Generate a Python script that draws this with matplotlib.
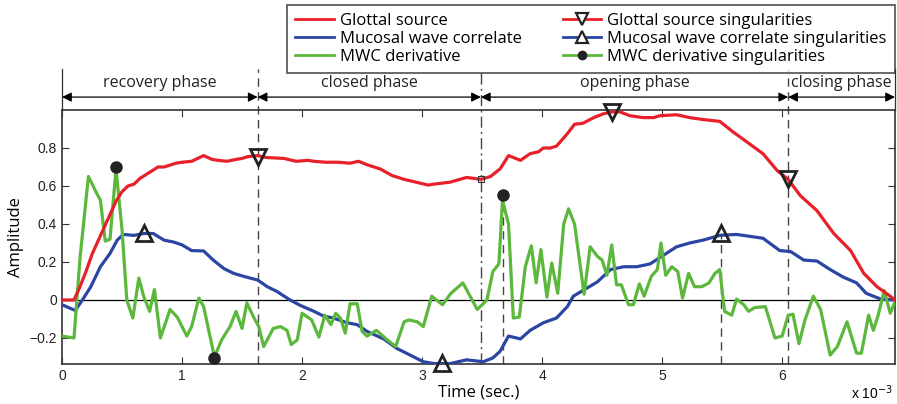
import numpy as np
import matplotlib
matplotlib.use('Agg')
import matplotlib.pyplot as plt
from matplotlib.lines import Line2D

plt.rcParams['font.family'] = ['Liberation Sans', 'DejaVu Sans']

# time axis in units of 1e-3 s
glottal_t = [0.0, 0.1, 0.15, 0.2, 0.25, 0.3, 0.35, 0.4, 0.45, 0.5, 0.55, 0.6, 0.65, 0.7,
             0.75, 0.8, 0.85, 0.9, 0.95, 1.0, 1.08, 1.13, 1.18, 1.25, 1.3, 1.375, 1.45,
             1.5, 1.55, 1.63, 1.7, 1.85, 1.95, 2.05, 2.1, 2.2, 2.3, 2.4, 2.47, 2.55, 2.65,
             2.75, 2.85, 2.95, 3.05, 3.1, 3.233, 3.37, 3.49, 3.57, 3.65, 3.72, 3.82, 3.9,
             3.97, 4.01, 4.07, 4.12, 4.21, 4.27, 4.34, 4.43, 4.51, 4.58, 4.65, 4.73, 4.84,
             4.93, 4.98, 5.12, 5.23, 5.34, 5.48, 5.59, 5.71, 5.84, 5.96, 6.05, 6.15, 6.29,
             6.43, 6.57, 6.68, 6.79, 6.9, 6.94]
glottal = [0.0, 0.0, 0.07, 0.15, 0.24, 0.31, 0.38, 0.45, 0.52, 0.57, 0.60, 0.61, 0.64, 0.66,
           0.68, 0.70, 0.70, 0.71, 0.72, 0.725, 0.73, 0.745, 0.76, 0.74, 0.735, 0.73, 0.74,
           0.745, 0.755, 0.76, 0.75, 0.745, 0.73, 0.735, 0.73, 0.725, 0.725, 0.72, 0.73, 0.71,
           0.69, 0.655, 0.635, 0.62, 0.605, 0.61, 0.62, 0.645, 0.635, 0.65, 0.69, 0.76, 0.735,
           0.77, 0.78, 0.80, 0.80, 0.81, 0.875, 0.925, 0.93, 0.96, 0.98, 0.99, 0.99, 0.97, 0.96,
           0.96, 0.97, 0.975, 0.96, 0.95, 0.94, 0.885, 0.83, 0.77, 0.68, 0.635, 0.55, 0.47,
           0.35, 0.26, 0.14, 0.07, 0.02, 0.0]

mucosal_t = [0.0, 0.11, 0.17, 0.24, 0.32, 0.4, 0.46, 0.51, 0.6, 0.68, 0.76, 0.85, 0.93, 1.0,
             1.08, 1.18, 1.26, 1.35, 1.43, 1.51, 1.63, 1.71, 1.79, 1.9, 1.99, 2.1, 2.18, 2.26,
             2.375, 2.46, 2.54, 2.68, 2.79, 2.9, 3.01, 3.1, 3.233, 3.37, 3.51, 3.59, 3.65,
             3.72, 3.82, 3.9, 4.01, 4.12, 4.21, 4.26, 4.34, 4.46, 4.57, 4.68, 4.79, 4.9, 5.01,
             5.12, 5.23, 5.34, 5.48, 5.62, 5.73, 5.84, 5.98, 6.07, 6.18, 6.29, 6.4, 6.51,
             6.62, 6.7, 6.82, 6.94]
mucosal = [-0.025, -0.055, 0.0, 0.07, 0.175, 0.245, 0.315, 0.345, 0.34, 0.35, 0.35, 0.315,
           0.305, 0.29, 0.26, 0.258, 0.21, 0.165, 0.14, 0.125, 0.105, 0.07, 0.045, 0.0,
           -0.03, -0.06, -0.085, -0.095, -0.12, -0.13, -0.165, -0.205, -0.255, -0.29,
           -0.325, -0.335, -0.335, -0.315, -0.325, -0.305, -0.27, -0.19, -0.205, -0.16,
           -0.12, -0.095, -0.035, 0.02, 0.05, 0.095, 0.16, 0.175, 0.175, 0.19, 0.235, 0.28,
           0.30, 0.315, 0.34, 0.345, 0.335, 0.325, 0.26, 0.255, 0.21, 0.205, 0.16, 0.12,
           0.09, 0.035, 0.005, 0.0]

mwc_t = [0.0, 0.1, 0.15, 0.22, 0.29, 0.32, 0.36, 0.4, 0.45, 0.5, 0.54, 0.59, 0.64, 0.68,
         0.73, 0.77, 0.82, 0.9, 0.96, 1.04, 1.08, 1.14, 1.18, 1.27, 1.33, 1.4, 1.45, 1.5,
         1.54, 1.6, 1.64, 1.68, 1.76, 1.82, 1.875, 1.91, 1.96, 2.0, 2.08, 2.14, 2.19, 2.24,
         2.28, 2.32, 2.36, 2.4, 2.46, 2.5, 2.54, 2.62, 2.71, 2.78, 2.85, 2.89, 2.96, 3.01,
         3.08, 3.17, 3.24, 3.34, 3.46, 3.54, 3.59, 3.64, 3.67, 3.72, 3.76, 3.81, 3.86, 3.91,
         3.95, 3.99, 4.04, 4.08, 4.13, 4.18, 4.22, 4.27, 4.35, 4.4, 4.46, 4.5, 4.54, 4.58,
         4.62, 4.66, 4.72, 4.76, 4.81, 4.85, 4.91, 4.96, 4.99, 5.03, 5.08, 5.13, 5.17, 5.22,
         5.27, 5.33, 5.39, 5.44, 5.48, 5.52, 5.58, 5.62, 5.68, 5.72, 5.77, 5.86, 5.94, 6.0,
         6.05, 6.09, 6.14, 6.19, 6.26, 6.32, 6.4, 6.46, 6.54, 6.62, 6.66, 6.72, 6.76, 6.8,
         6.85, 6.9, 6.94]
mwc = [-0.19, -0.2, 0.22, 0.65, 0.56, 0.525, 0.31, 0.32, 0.69, 0.37, 0.0, -0.095, 0.115,
       0.02, -0.06, 0.055, -0.2, -0.05, -0.09, -0.19, -0.14, 0.01, -0.035, -0.30, -0.21,
       -0.14, -0.06, -0.15, -0.015, -0.095, -0.14, -0.245, -0.15, -0.14, -0.16, -0.235,
       -0.21, -0.07, -0.105, -0.195, -0.08, -0.13, -0.07, -0.095, -0.175, -0.02, -0.02,
       -0.165, -0.19, -0.16, -0.21, -0.245, -0.115, -0.105, -0.115, -0.14, 0.02, -0.025,
       0.035, 0.09, -0.05, 0.0, 0.15, 0.19, 0.525, 0.40, -0.095, -0.09, 0.175, 0.285, 0.09,
       0.265, 0.015, 0.195, 0.035, 0.40, 0.48, 0.40, 0.03, 0.28, 0.23, 0.21, 0.13, 0.29,
       0.08, 0.08, -0.025, -0.025, 0.085, 0.02, 0.125, 0.16, 0.30, 0.13, 0.175, 0.15, 0.01,
       0.14, 0.07, 0.07, 0.09, 0.14, 0.16, -0.06, -0.08, 0.005, -0.025, -0.06, -0.04,
       -0.035, -0.20, -0.19, -0.08, -0.075, -0.23, -0.105, 0.02, -0.05, -0.29, -0.245,
       -0.115, -0.28, -0.28, -0.08, -0.16, -0.08, 0.05, -0.07, -0.01]

gs_sing_t = [1.63, 4.58, 6.05]
gs_sing = [0.755, 0.99, 0.635]
mwc_sing_t = [0.68, 3.17, 5.49]
mwc_sing = [0.355, -0.33, 0.355]
der_sing_t = [0.45, 1.27, 3.67]
der_sing = [0.70, -0.305, 0.55]

phase_names = ['recovery phase', 'closed phase', 'opening phase', 'closing phase']
phase_edges = [0.0, 1.63, 3.49, 6.05, 6.94]

red = '#e8202a'
blue = '#2b45a3'
green = '#5cb83d'

fig = plt.figure(figsize=(8.97, 4.04), dpi=100)
ax = fig.add_axes([62 / 897, 40 / 404, 833 / 897, 254 / 404])

ax.axhline(0, color='black', lw=0.9, zorder=1)

ax.plot(mucosal_t, mucosal, color=blue, lw=2.3, zorder=3)
ax.plot(mwc_t, mwc, color=green, lw=2.3, zorder=3)
ax.plot(glottal_t, glottal, color=red, lw=2.3, zorder=4)

# small square at closed/opening boundary
ax.plot([3.49], [0.635], marker='s', ms=4, mfc='none', mec='#333333', mew=0.8, zorder=6)

ax.plot(gs_sing_t, gs_sing, ls='none', marker='v', ms=12, mfc='none', mec='#222222',
        mew=2.0, zorder=6, clip_on=False)
ax.plot(mwc_sing_t, mwc_sing, ls='none', marker='^', ms=12, mfc='none', mec='#222222',
        mew=2.0, zorder=6, clip_on=False)
ax.plot(der_sing_t, der_sing, ls='none', marker='o', ms=8, color='#222222', zorder=6,
        clip_on=False)

top = 1.215
# phase boundary lines
vstyle = dict(color='#444444', lw=1.0, zorder=2, clip_on=False)
ax.plot([phase_edges[1]] * 2, [-0.337, top], ls=(0, (6, 4)), **vstyle)
ax.plot([phase_edges[2]] * 2, [-0.337, top], ls=(0, (8, 3, 1.5, 3)), **vstyle)
ax.plot([phase_edges[3]] * 2, [-0.337, top], ls=(0, (6, 4)), **vstyle)
ax.plot([phase_edges[0]] * 2, [1.0, top], color='#333333', lw=0.9, clip_on=False)
ax.plot([phase_edges[4]] * 2, [1.0, top], color='#333333', lw=0.9, clip_on=False)
# drop lines under derivative/mucosal singularities
ax.plot([der_sing_t[2]] * 2, [-0.337, der_sing[2]], ls=(0, (6, 4)), **vstyle)
ax.plot([mwc_sing_t[2]] * 2, [-0.337, mwc_sing[2]], ls=(0, (6, 4)), **vstyle)

for i, name in enumerate(phase_names):
    a, b = phase_edges[i], phase_edges[i + 1]
    ax.annotate('', xy=(a, 1.068), xytext=(b, 1.068), xycoords='data',
                arrowprops=dict(arrowstyle='<|-|>', color='black', lw=0.9,
                                mutation_scale=14, shrinkA=0, shrinkB=0),
                annotation_clip=False)
    ax.text((a + b) / 2, 1.14, name, ha='center', va='center', fontsize=11.5,
            family=['Open Sans', 'DejaVu Sans'], color='#222222')

ax.set_xlim(0, 6.94)
ax.set_ylim(-0.337, 1.0)
ax.set_xticks([0, 1, 2, 3, 4, 5, 6])
ax.set_yticks([-0.2, 0, 0.2, 0.4, 0.6, 0.8])
ax.set_yticklabels(['\u22120.2', '0', '0.2', '0.4', '0.6', '0.8'])
ax.tick_params(direction='in', top=True, right=True, length=5, width=0.8,
               labelsize=10, colors='#333333', labelcolor='#222222')
for s in ax.spines.values():
    s.set_linewidth(1.2)
    s.set_color('#333333')

ax.set_xlabel('Time (sec.)', fontsize=12, family=['Open Sans', 'DejaVu Sans'], labelpad=1)
ax.set_ylabel('Amplitude', fontsize=12, family=['Open Sans', 'DejaVu Sans'], labelpad=4)
fig.text(893 / 897, 2 / 404, 'x 10$^{-3}$', ha='right', va='bottom', fontsize=10)

handles = [
    Line2D([], [], color=red, lw=2),
    Line2D([], [], color=blue, lw=2),
    Line2D([], [], color=green, lw=2),
    Line2D([], [], color=red, lw=2, marker='v', ms=9, mfc='white', mec='#222222', mew=1.6),
    Line2D([], [], color=blue, lw=2, marker='^', ms=9, mfc='white', mec='#222222', mew=1.6),
    Line2D([], [], color=green, lw=2, marker='o', ms=6, mfc='#222222', mec='#222222'),
]
labels = ['Glottal source', 'Mucosal wave correlate', 'MWC derivative',
          'Glottal source singularities', 'Mucosal wave correlate singularities',
          'MWC derivative singularities']
leg = fig.legend(handles, labels, ncol=2, loc='upper right',
                 bbox_to_anchor=(895 / 897, 1 - 5 / 404), borderaxespad=0,
                 frameon=True, fancybox=False, handlelength=2.3, labelspacing=0.1,
                 columnspacing=2.5, borderpad=0.5, handletextpad=0.35,
                 prop={'family': ['Open Sans', 'DejaVu Sans'], 'size': 12})
leg.get_frame().set_edgecolor('#222222')
leg.get_frame().set_linewidth(1.2)

fig.savefig('out.png', dpi=100)
